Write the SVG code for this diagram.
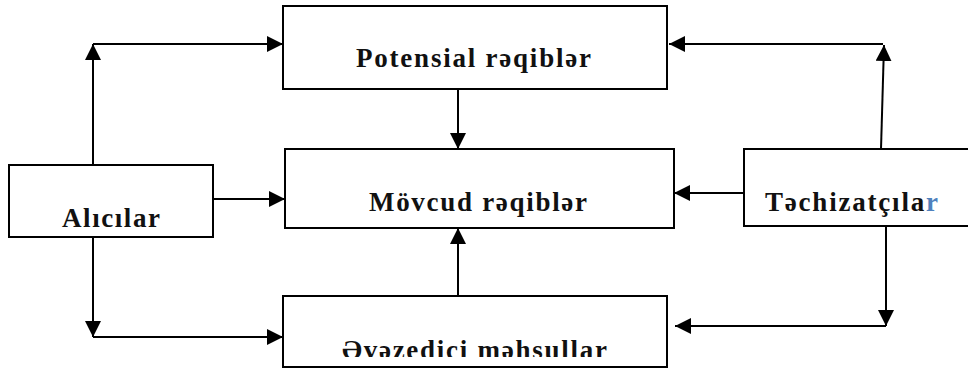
<svg xmlns="http://www.w3.org/2000/svg" width="968" height="369" viewBox="0 0 968 369">
<style>
.box{fill:#fff;stroke:#000;stroke-width:2}
.lbl{font-family:"Liberation Serif","DejaVu Serif",serif;font-weight:bold;font-size:27px;fill:#111}
.con{stroke:#000;stroke-width:2;fill:none;marker-end:url(#ah)}
</style>
<defs>
<marker id="ah" markerUnits="userSpaceOnUse" markerWidth="16" markerHeight="16" refX="16" refY="8" orient="auto" viewBox="0 0 16 16">
<path d="M0,0 L16,8 L0,16 z" fill="#000"/>
</marker>
<clipPath id="clipE"><rect x="284" y="297" width="382" height="60"/></clipPath>
</defs>
<rect width="968" height="369" fill="#fff"/>
<g id="potensial">
<rect class="box" x="283" y="6" width="384" height="83"/>
<text class="lbl" x="356" y="67" textLength="235" lengthAdjust="spacing">Potensial rəqiblər</text>
</g>
<g id="movcud">
<rect class="box" x="285" y="149" width="389" height="79"/>
<text class="lbl" x="369" y="211" textLength="218" lengthAdjust="spacing">Mövcud rəqiblər</text>
</g>
<g id="alicilar">
<rect class="box" x="9" y="165" width="204" height="72"/>
<text class="lbl" x="62" y="227" textLength="98" lengthAdjust="spacing">Alıcılar</text>
</g>
<g id="techizatcilar">
<rect class="box" x="744" y="149" width="240" height="77"/>
<text class="lbl" x="765" y="211" textLength="173" lengthAdjust="spacing">Təchizatçıla<tspan fill="#4f81bd">r</tspan></text>
</g>
<g id="evezedici">
<rect class="box" x="283" y="296" width="384" height="71"/>
<text class="lbl" x="342" y="359" textLength="265" lengthAdjust="spacing" clip-path="url(#clipE)">Əvəzedici məhsullar</text>
</g>
<g id="connectors">
<line class="con" x1="93" y1="165" x2="93" y2="44"/>
<line class="con" x1="93" y1="44" x2="283" y2="44"/>
<line class="con" x1="458" y1="89" x2="458" y2="149"/>
<line class="con" x1="213" y1="199" x2="285" y2="199"/>
<line class="con" x1="93" y1="237" x2="93" y2="337"/>
<line class="con" x1="93" y1="337" x2="283" y2="337"/>
<line class="con" x1="458" y1="296" x2="458" y2="228"/>
<line class="con" x1="744" y1="193" x2="674" y2="193"/>
<line class="con" x1="881" y1="149" x2="884" y2="45"/>
<line class="con" x1="883" y1="44" x2="669" y2="44"/>
<line class="con" x1="886" y1="226" x2="886" y2="326"/>
<line class="con" x1="886" y1="326" x2="675" y2="326"/>
</g>
</svg>
